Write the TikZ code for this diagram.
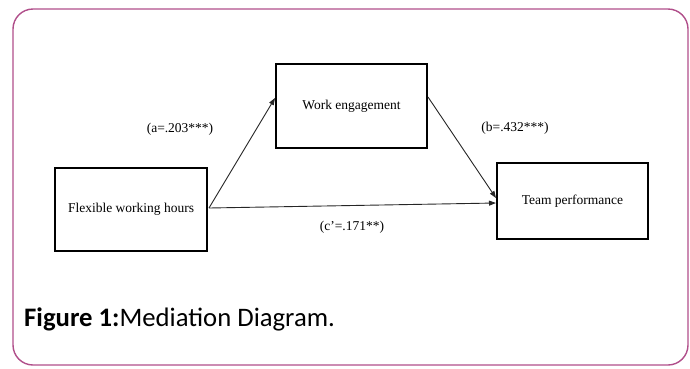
\documentclass[tikz,border=0pt]{standalone}
\usepackage{fontspec}
\setmainfont{Liberation Serif}
\newfontfamily\capfont{Carlito}
\usetikzlibrary{arrows.meta}
\tikzset{
  px/.style={x=1pt,y=-1pt},
  var/.style={draw=black, line width=2pt, minimum width=152pt, anchor=north west, inner sep=0pt, font=\fontsize{13.5}{16}\selectfont},
  path/.style={draw=black!85, line width=0.9pt, -{Triangle[length=7pt,width=5pt]}},
  coef/.style={font=\fontsize{13.5}{16}\selectfont, inner sep=0pt}
}
\begin{document}
\begin{tikzpicture}[px]
  \useasboundingbox (0,0) rectangle (690,368);
  % outer frame
  \draw[draw={rgb,255:red,176;green,78;blue,138}, line width=1.4pt, rounded corners=20pt] (13,9) rectangle (688,365);
  % variables
  \node[var, minimum height=83pt] (x) at (54,167) {Flexible working hours};
  \node[var, minimum height=84pt, minimum width=151pt] (m) at (275,63) {Work engagement};
  \node[var, minimum height=76pt, minimum width=151pt] (y) at (496,162) {Team performance};
  % paths
  \coordinate (xo) at (209,208);
  \draw[path] (xo) -- (m.west |- 0,98);
  \draw[path] (xo) -- (y.west |- 0,203);
  \draw[path] (m.east |- 0,97) -- (y.west |- 0,198);
  % coefficients
  \node[coef] (a) at (180,129) {(a=.203***)};
  \node[coef] (b) at (515,128) {(b=.432***)};
  \node[coef] (c) at (352,227) {(c'=.171**)};
  % caption
  \node[anchor=base west, inner sep=0pt, font=\capfont\fontsize{26.7}{30}\selectfont] (cap) at (24,326) {\textbf{Figure 1:}Mediation Diagram.};
\end{tikzpicture}
\end{document}
